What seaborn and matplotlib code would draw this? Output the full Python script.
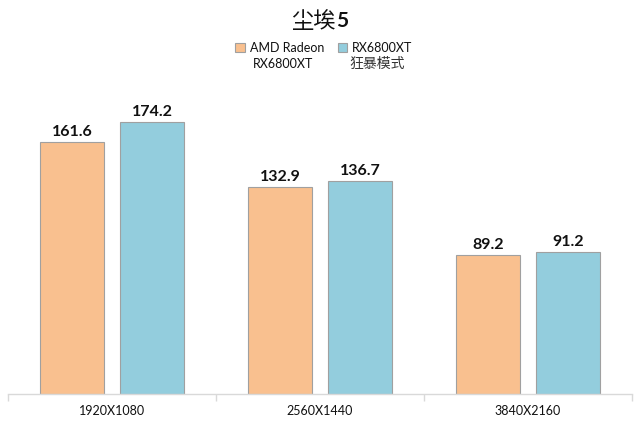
import matplotlib
matplotlib.use("Agg")
import matplotlib.pyplot as plt
import seaborn as sns
import pandas as pd

resolutions = ["1920X1080", "2560X1440", "3840X2160"]
series_names = ["AMD Radeon\nRX6800XT", "RX6800XT\n狂暴模式"]
fps_stock = [161.6, 132.9, 89.2]
fps_rage = [174.2, 136.7, 91.2]

df = pd.DataFrame({
    "res": resolutions * 2,
    "card": [series_names[0]] * 3 + [series_names[1]] * 3,
    "fps": fps_stock + fps_rage,
})

sns.set_theme(style="white")
plt.rcParams["font.family"] = ["Lato", "Noto Sans CJK SC", "DejaVu Sans"]

fig = plt.figure(figsize=(6.4, 4.24), dpi=100)
ax = fig.add_axes([8 / 640, 1 - 394 / 424, 624 / 640, 312 / 424])

sns.barplot(data=df, x="res", y="fps", hue="card", ax=ax,
            palette=["#F9C08F", "#93CDDD"], saturation=1, width=0.77, gap=0.19,
            edgecolor="#A0A0A0", linewidth=0.8, legend=True)

for c in ax.containers:
    ax.bar_label(c, fmt="%.1f", padding=2, fontsize=11.5, fontweight="bold", color="#111111")

ax.set_ylim(0, 200)
ax.set_xlim(-0.5, 2.5)
ax.set_xlabel("")
ax.set_ylabel("")
ax.set_yticks([])
for s in ["left", "right", "top"]:
    ax.spines[s].set_visible(False)
ax.spines["bottom"].set_color("#D9D9D9")
ax.spines["bottom"].set_linewidth(1)
ax.set_xticks([-0.5, 0.5, 1.5, 2.5], minor=True)
ax.tick_params(axis="x", which="minor", length=5, color="#D9D9D9", bottom=True)
ax.tick_params(axis="x", which="major", length=0, pad=8, labelsize=9, labelcolor="#111111")

# legend: handle sits beside the first line, second line drawn underneath
handles, labels = ax.get_legend_handles_labels()
ax.legend_.remove()
first_lines = [l.split("\n")[0] for l in labels]
second_lines = [l.split("\n")[1] for l in labels]
leg = fig.legend(handles, first_lines, loc="center", bbox_to_anchor=(324 / 640, 1 - 48 / 424),
                 ncol=2, frameon=False, fontsize=9, handlelength=0.75, handleheight=0.75,
                 handletextpad=0.4, columnspacing=1.1, labelcolor="#111111")
fig.text(283 / 640, 1 - 64 / 424, second_lines[0], ha="center", va="center", fontsize=9, color="#111111")
fig.text(377 / 640, 1 - 64 / 424, second_lines[1], ha="center", va="center", fontsize=10,
         color="#333333", family=["Noto Sans CJK SC", "DejaVu Sans"])

fig.text(336 / 640, 1 - 21 / 424, "尘埃", ha="right", va="center", fontsize=16,
         family=["Noto Sans CJK SC", "DejaVu Sans"], color="#111111")
fig.text(336 / 640, 1 - 21 / 424, "5", ha="left", va="center", fontsize=15, fontweight="bold",
         color="#111111")

fig.savefig("out.png", dpi=100)
